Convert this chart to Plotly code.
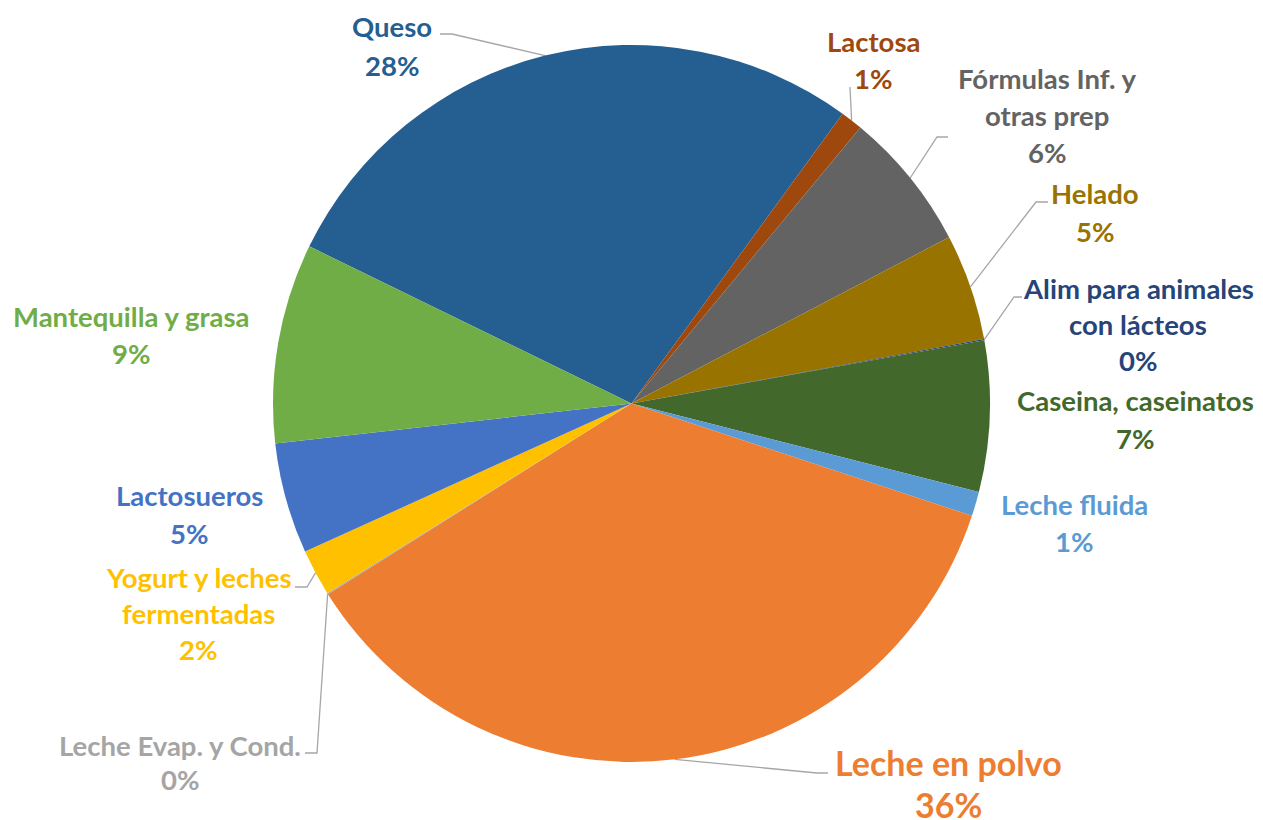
import math
import plotly.graph_objects as go

# Slice data (clockwise, starting with Queso)
categories = ["Queso", "Lactosa", "Fórmulas Inf. y otras prep", "Helado",
              "Alim para animales con lácteos", "Caseina, caseinatos", "Leche fluida",
              "Leche en polvo", "Leche Evap. y Cond.", "Yogurt y leches fermentadas",
              "Lactosueros", "Mantequilla y grasa"]
values = [27.8, 1.0, 6.3, 4.8, 0.05, 6.8, 1.1, 36.0, 0.05, 2.1, 5.0, 9.0]
colors = ["#255E91", "#9E480E", "#636363", "#997300", "#264478", "#43682B",
          "#5B9BD5", "#ED7D31", "#A5A5A5", "#FFC000", "#4472C4", "#70AD47"]

# how each category name is split on the chart
label_lines = {
    "Fórmulas Inf. y otras prep": ["Fórmulas Inf. y", "otras prep"],
    "Alim para animales con lácteos": ["Alim para animales", "con lácteos"],
    "Yogurt y leches fermentadas": ["Yogurt y leches", "fermentadas"],
}

# page body has an 8px margin; coordinates below are screen pixels
OFF = 8
W, H = 1263 - 2 * OFF, 820 - OFF
ROTATION = 296
TOP, BOTTOM = 45, 762
CX, CY = 631.5, (TOP + BOTTOM) / 2
R = (BOTTOM - TOP) / 2

# label placement: x centre, y of first line, line spacing, font size
label_pos = {
    "Queso": (392, 26, 39, 27.5),
    "Lactosa": (873, 41, 37, 27.5),
    "Fórmulas Inf. y otras prep": (1047, 78, 37, 27.5),
    "Helado": (1095, 193, 38, 27.5),
    "Alim para animales con lácteos": (1138, 288, 36, 27.5),
    "Caseina, caseinatos": (1135, 400, 38, 27.5),
    "Leche fluida": (1074, 504, 37, 27.5),
    "Leche en polvo": (948, 762, 42, 34),
    "Leche Evap. y Cond.": (180, 745, 34, 27.5),
    "Yogurt y leches fermentadas": (198, 577, 36, 27.5),
    "Lactosueros": (189, 495, 38, 27.5),
    "Mantequilla y grasa": (131, 316, 37, 27.5),
}

# leader line points on the label side
leader_anchor = {
    "Queso": [(440, 34), (452, 34)],
    "Lactosa": [(850, 87)],
    "Fórmulas Inf. y otras prep": [(948, 137), (937, 137)],
    "Helado": [(1048, 202), (1036, 202)],
    "Alim para animales con lácteos": [(1022, 297), (1014, 297)],
    "Yogurt y leches fermentadas": [(295, 587), (307, 587)],
    "Leche Evap. y Cond.": [(305, 753), (317, 753)],
    "Leche en polvo": [(828, 773), (817, 773)],
}

fig = go.Figure()
fx0 = (CX - OFF - 400) / W
fx1 = (CX - OFF + 400) / W
fy0 = (H - (BOTTOM - OFF)) / H
fy1 = (H - (TOP - OFF)) / H
fig.add_trace(go.Pie(
    labels=categories, values=values, sort=False, direction="clockwise",
    rotation=ROTATION, textinfo="none", hoverinfo="label+percent",
    marker=dict(colors=colors, line=dict(width=0)),
    domain=dict(x=[fx0, fx1], y=[fy0, fy1]),
    showlegend=False,
))

total = sum(values)
cum = 0
annotations = []
for name, v, col in zip(categories, values, colors):
    mid = math.radians(ROTATION + (cum + v / 2) / total * 360)
    cum += v
    pct = f"{round(v / total * 100)}%"
    lines = label_lines.get(name, [name]) + [pct]
    x, y0, dy, size = label_pos[name]
    for i, line in enumerate(lines):
        annotations.append(dict(
            x=x, y=y0 + i * dy, xref="x", yref="y", text=line, showarrow=False,
            xanchor="center", yanchor="middle",
            font=dict(family="Lato", size=size, color=col, weight="bold"),
        ))
    if name in leader_anchor:
        pts = leader_anchor[name] + [(CX + R * math.sin(mid), CY - R * math.cos(mid))]
        fig.add_trace(go.Scatter(
            x=[p[0] for p in pts], y=[p[1] for p in pts], mode="lines",
            line=dict(color="#A6A6A6", width=1.3), hoverinfo="skip", showlegend=False,
        ))

fig.update_layout(
    width=W, height=H, margin=dict(l=0, r=0, t=0, b=0),
    paper_bgcolor="white", plot_bgcolor="rgba(0,0,0,0)",
    xaxis=dict(range=[OFF, OFF + W], visible=False, fixedrange=True),
    yaxis=dict(range=[OFF + H, OFF], visible=False, fixedrange=True),
    annotations=annotations,
)

fig.write_html("out.html")
